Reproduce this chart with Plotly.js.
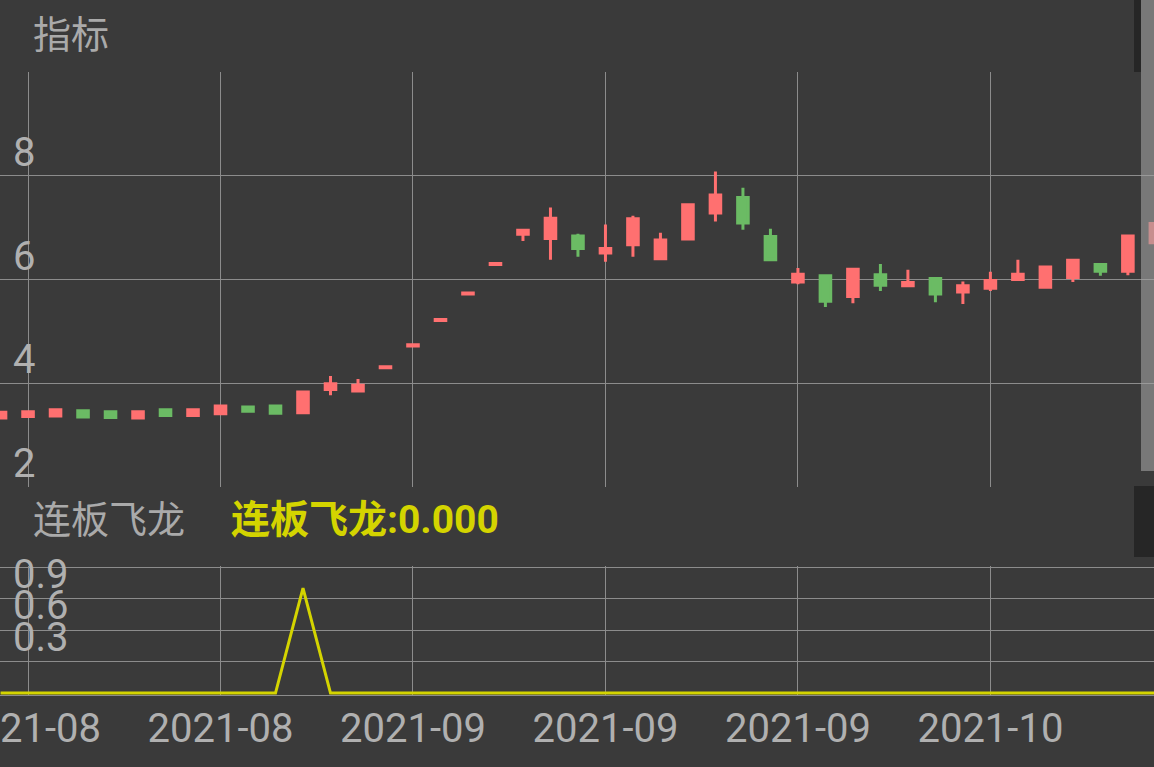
<!DOCTYPE html>
<html>
<head>
<meta charset="utf-8">
<script src="https://cdn.plot.ly/plotly-3.0.1.min.js"></script>
<style>
  html, body { margin: 0; padding: 0; background: #3a3a3a; }
  #chart { width: 1154px; height: 767px; }
</style>
</head>
<body>
<div id="chart"></div>
<script>
// Trading days shown in the chart
const dates = [
  "2021-08-11","2021-08-12","2021-08-13","2021-08-16","2021-08-17","2021-08-18","2021-08-19",
  "2021-08-20","2021-08-23","2021-08-24","2021-08-25","2021-08-26","2021-08-27","2021-08-30",
  "2021-08-31","2021-09-01","2021-09-02","2021-09-03","2021-09-06","2021-09-07","2021-09-08",
  "2021-09-09","2021-09-10","2021-09-13","2021-09-14","2021-09-15","2021-09-16","2021-09-17",
  "2021-09-22","2021-09-23","2021-09-24","2021-09-27","2021-09-28","2021-09-29","2021-09-30",
  "2021-10-08","2021-10-11","2021-10-12","2021-10-13","2021-10-14","2021-10-15","2021-10-18",
  "2021-10-19"
];
const openVals  = [3.33,3.36,3.37,3.47,3.45,3.33,3.49,3.38,3.41,3.54,3.56,3.43,3.88,3.85,4.30,4.72,5.21,5.72,6.29,6.87,6.79,6.84,6.51,6.67,6.40,6.78,7.28,7.58,6.83,5.95,6.07,5.67,6.09,5.88,6.02,5.76,5.83,6.00,5.85,6.04,6.29,6.16,6.71];
const highVals  = [3.44,3.47,3.49,3.47,3.45,3.45,3.49,3.49,3.56,3.54,3.56,3.83,4.14,4.08,4.32,4.74,5.23,5.74,6.31,6.95,7.39,6.88,7.06,7.23,6.90,7.44,8.08,7.77,6.98,6.22,6.07,6.20,6.30,6.19,6.03,5.96,6.15,6.38,6.24,6.37,6.29,6.84,7.08];
const lowVals   = [3.33,3.36,3.37,3.35,3.34,3.33,3.38,3.38,3.41,3.45,3.42,3.43,3.77,3.82,4.30,4.72,5.21,5.72,6.29,6.74,6.38,6.44,6.34,6.44,6.40,6.78,7.12,6.96,6.38,5.91,5.47,5.54,5.78,5.88,5.56,5.53,5.78,6.00,5.85,5.95,6.07,6.08,6.71];
const closeVals = [3.44,3.45,3.49,3.35,3.34,3.45,3.38,3.49,3.56,3.46,3.42,3.83,3.99,3.96,4.32,4.74,5.23,5.74,6.31,6.95,7.18,6.60,6.60,7.17,6.76,7.44,7.63,7.09,6.38,6.10,5.58,6.20,5.89,5.94,5.72,5.88,5.98,6.10,6.24,6.37,6.16,6.84,7.08];
// 连板飞龙 indicator
const lbflVals  = [0,0,0,0,0,0,0,0,0,0,0,1,0,0,0,0,0,0,0,0,0,0,0,0,0,0,0,0,0,0,0,0,0,0,0,0,0,0,0,0,0,0,0];

const priceTicks = [2,4,6,8];
const priceTickText = ["2","4","6","8"];
const indTicks = [0.3,0.6,0.9,1.2];
const indTickText = ["0.3","0.6","0.9",""];
const xTickIdx = [1,8,15,22,29,36];

const idx = dates.map((d,i) => i);
const xTickText = xTickIdx.map(i => dates[i].slice(0,7));

const RED = "#ff7070", GREEN = "#6bbb64", GRID = "#8c8c8c", TXT = "#b0b0b0";
const FONT = "Roboto, 'Noto Sans CJK SC', sans-serif";

const traces = [
  {
    type: "candlestick",
    x: idx, open: openVals, high: highVals, low: lowVals, close: closeVals,
    xaxis: "x", yaxis: "y",
    increasing: { line: { color: RED, width: 3 }, fillcolor: RED },
    decreasing: { line: { color: GREEN, width: 3 }, fillcolor: GREEN },
    hoverinfo: "skip"
  },
  {
    type: "scatter", mode: "lines",
    x: idx, y: lbflVals,
    xaxis: "x2", yaxis: "y2",
    line: { color: "#d4d400", width: 3 },
    hoverinfo: "skip"
  }
];

const W = 1154, H = 767;
const px = v => v / W;
const py = v => 1 - v / H;

const layout = {
  width: W, height: H,
  paper_bgcolor: "#3a3a3a",
  plot_bgcolor: "#3a3a3a",
  margin: { l: 0, r: 0, t: 0, b: 0, pad: 0 },
  showlegend: false,
  hovermode: false,
  boxgap: 0.45,
  font: { family: FONT, color: TXT, size: 38 },
  xaxis: {
    domain: [0, 1],
    anchor: "y",
    range: [-0.02, 41.95],
    rangeslider: { visible: false },
    tickmode: "array", tickvals: xTickIdx, ticktext: xTickText,
    showticklabels: false,
    showgrid: true, gridcolor: GRID, gridwidth: 1,
    zeroline: false, showline: false, ticks: ""
  },
  yaxis: {
    domain: [py(487), py(72)],
    anchor: "x",
    range: [2, 10],
    tickmode: "array", tickvals: priceTicks, ticktext: priceTickText,
    ticklabelposition: "inside",
    ticklabeloverflow: "allow",
    ticklabelshift: -24,
    ticklabelstandoff: 10,
    tickfont: { family: FONT, size: 40, color: TXT },
    showgrid: true, gridcolor: GRID, gridwidth: 1,
    zeroline: false, showline: false, ticks: ""
  },
  xaxis2: {
    domain: [0, 1],
    anchor: "y2",
    matches: "x",
    tickmode: "array", tickvals: xTickIdx, ticktext: xTickText,
    tickfont: { family: FONT, size: 40, color: TXT },
    ticklabeloverflow: "allow",
    ticklabelstandoff: -2,
    showgrid: true, gridcolor: GRID, gridwidth: 1,
    zeroline: false, showline: true, linecolor: GRID, linewidth: 1, ticks: ""
  },
  yaxis2: {
    domain: [py(695), py(566)],
    anchor: "x2",
    range: [-0.019, 1.21],
    tickmode: "array", tickvals: indTicks, ticktext: indTickText,
    ticklabelposition: "inside",
    ticklabeloverflow: "allow",
    ticklabelshift: -25,
    ticklabelstandoff: 10,
    tickfont: { family: FONT, size: 40, color: TXT },
    showgrid: true, gridcolor: GRID, gridwidth: 1,
    zeroline: false, showline: false, ticks: ""
  },
  annotations: [
    { text: "指标", xref: "paper", yref: "paper", x: px(31), y: py(35),
      xanchor: "left", yanchor: "middle", showarrow: false,
      font: { family: FONT, size: 38, color: "#aaaaaa" } },
    { text: "连板飞龙", xref: "paper", yref: "paper", x: px(31), y: py(520),
      xanchor: "left", yanchor: "middle", showarrow: false,
      font: { family: FONT, size: 38, color: "#aaaaaa" } },
    { text: "<b>连板飞龙:0.000</b>", xref: "paper", yref: "paper", x: px(229), y: py(520),
      xanchor: "left", yanchor: "middle", showarrow: false,
      font: { family: FONT, size: 39, color: "#d4d400" } }
  ],
  shapes: [
    { type: "rect", xref: "paper", yref: "paper", x0: px(1134), x1: px(1141), y0: py(72), y1: 1,
      fillcolor: "#262626", line: { width: 0 }, layer: "above" },
    { type: "rect", xref: "paper", yref: "paper", x0: px(1134), x1: 1, y0: py(557), y1: py(486),
      fillcolor: "#262626", line: { width: 0 }, layer: "above" },
    { type: "rect", xref: "paper", yref: "paper", x0: px(1141), x1: 1, y0: py(471), y1: 1,
      fillcolor: "#a1a1a1", opacity: 0.6, line: { width: 0 }, layer: "above" }
  ]
};

Plotly.newPlot("chart", traces, layout, { staticPlot: true, displayModeBar: false });
</script>
</body>
</html>
